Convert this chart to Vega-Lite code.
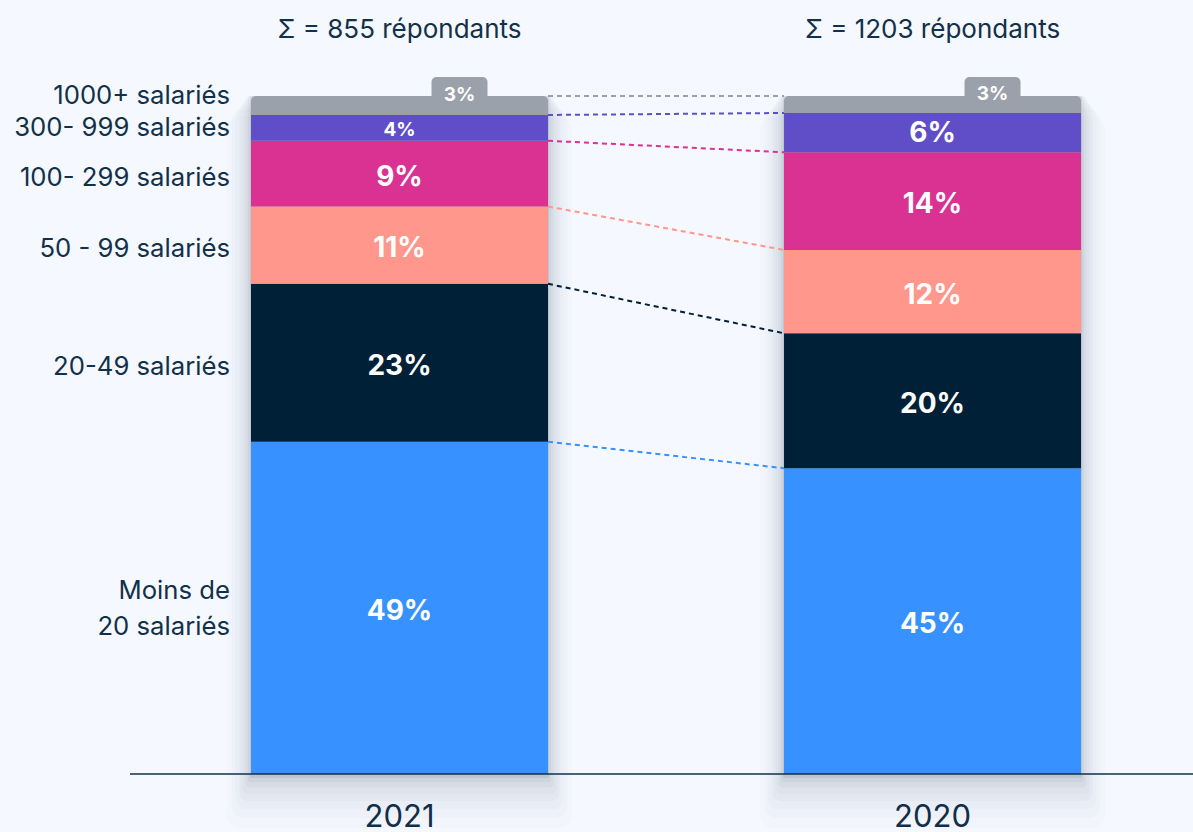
{
"$schema":"https://vega.github.io/schema/vega-lite/v6.json",
"width":1193,"height":832,"autosize":"none","padding":0,"background":"#f5f8fe",
"config":{"view":{"stroke":null},"font":"Inter"},
"datasets":{
"shares":[
{"year":"2021","category":"Moins de 20 salariés","name":["Moins de","20 salariés"],"rank":1,"share":49.0,"label":"49%"},
{"year":"2021","category":"20-49 salariés","name":"20-49 salariés","rank":2,"share":23.3,"label":"23%"},
{"year":"2021","category":"50 - 99 salariés","name":"50 - 99 salariés","rank":3,"share":11.4,"label":"11%"},
{"year":"2021","category":"100- 299 salariés","name":"100- 299 salariés","rank":4,"share":9.7,"label":"9%"},
{"year":"2021","category":"300- 999 salariés","name":"300- 999 salariés","rank":5,"share":3.8,"label":"4%"},
{"year":"2021","category":"1000+ salariés","name":"1000+ salariés","rank":6,"share":2.8,"label":"3%"},
{"year":"2020","category":"Moins de 20 salariés","name":["Moins de","20 salariés"],"rank":1,"share":45.1,"label":"45%"},
{"year":"2020","category":"20-49 salariés","name":"20-49 salariés","rank":2,"share":19.9,"label":"20%"},
{"year":"2020","category":"50 - 99 salariés","name":"50 - 99 salariés","rank":3,"share":12.3,"label":"12%"},
{"year":"2020","category":"100- 299 salariés","name":"100- 299 salariés","rank":4,"share":14.4,"label":"14%"},
{"year":"2020","category":"300- 999 salariés","name":"300- 999 salariés","rank":5,"share":5.8,"label":"6%"},
{"year":"2020","category":"1000+ salariés","name":"1000+ salariés","rank":6,"share":2.5,"label":"3%"}
],
"headers":[{"year":"2021","text":"Σ = 855 répondants"},{"year":"2020","text":"Σ = 1203 répondants"}],
"ends":[{"end":"start"},{"end":"stop"}]
},
"data":{"name":"shares"},
"transform":[
{"stack":"share","groupby":["year"],"sort":[{"field":"rank","order":"ascending"}],"as":["y0","y1"]},
{"calculate":"(datum.y0+datum.y1)/2","as":"mid"}
],
"resolve":{"scale":{"x":"independent"}},
"layer":[
{
"encoding":{"x":{"field":"year","type":"nominal","sort":["2021","2020"],
 "scale":{"domain":["2021","2020"],"paddingInner":0.4428,"paddingOuter":0.3405,"align":0.6915},
 "axis":{"title":null,"domain":false,"ticks":false,"grid":false,"labelAngle":0,"offset":-58,"labelPadding":28,"labelFontSize":31,"labelColor":"#12304a","labelFont":"Inter","labelBaseline":"top"}}},
"layer":[
{"transform":[{"filter":"datum.rank==6"}],"mark":{"type":"bar","width":346,"opacity":0.012,"color":"#001a3a","cornerRadius":14},"encoding":{"y":{"datum":-8,"type":"quantitative","scale":{"domain":[-8.555,114.16]},"axis":null},"y2":{"datum":97}}},
{"transform":[{"filter":"datum.rank==6"}],"mark":{"type":"bar","width":336,"opacity":0.015,"color":"#001a3a","cornerRadius":12},"encoding":{"y":{"datum":-6.5,"type":"quantitative","scale":{"domain":[-8.555,114.16]},"axis":null},"y2":{"datum":98}}},
{"transform":[{"filter":"datum.rank==6"}],"mark":{"type":"bar","width":328,"opacity":0.02,"color":"#001a3a","cornerRadius":10},"encoding":{"y":{"datum":-5.2,"type":"quantitative","scale":{"domain":[-8.555,114.16]},"axis":null},"y2":{"datum":98.5}}},
{"transform":[{"filter":"datum.rank==6"}],"mark":{"type":"bar","width":320,"opacity":0.022,"color":"#001a3a","cornerRadius":8},"encoding":{"y":{"datum":-4,"type":"quantitative","scale":{"domain":[-8.555,114.16]},"axis":null},"y2":{"datum":99}}},
{"transform":[{"filter":"datum.rank==6"}],"mark":{"type":"bar","width":314,"opacity":0.025,"color":"#001a3a","cornerRadius":6},"encoding":{"y":{"datum":-3,"type":"quantitative","scale":{"domain":[-8.555,114.16]},"axis":null},"y2":{"datum":99.5}}},
{"transform":[{"filter":"datum.rank==6"}],"mark":{"type":"bar","width":308,"opacity":0.03,"color":"#001a3a","cornerRadius":4},"encoding":{"y":{"datum":-2,"type":"quantitative","scale":{"domain":[-8.555,114.16]},"axis":null},"y2":{"datum":100}}},
{"transform":[{"filter":"datum.rank==6"}],"mark":{"type":"bar","width":303,"opacity":0.04,"color":"#001a3a","cornerRadius":3},"encoding":{"y":{"datum":-1.2,"type":"quantitative","scale":{"domain":[-8.555,114.16]},"axis":null},"y2":{"datum":100}}},
{"transform":[{"filter":"datum.rank==6"}],"mark":{"type":"bar","width":299,"opacity":0.08,"color":"#001a3a","cornerRadius":2},"encoding":{"y":{"datum":-0.6,"type":"quantitative","scale":{"domain":[-8.555,114.16]},"axis":null},"y2":{"datum":100}}},
{"transform":[{"filter":"datum.rank==6"}],"mark":{"type":"bar","width":56,"xOffset":60,"color":"#9aa1aa","cornerRadius":5},"encoding":{"y":{"datum":97,"type":"quantitative","scale":{"domain":[-8.555,114.16]}},"y2":{"datum":102.8}}},
{"transform":[{"filter":"datum.rank==6"}],"mark":{"type":"bar","color":"#9aa1aa","cornerRadiusTopLeft":5,"cornerRadiusTopRight":5},"encoding":{"y":{"field":"y0","type":"quantitative","scale":{"domain":[-8.555,114.16]}},"y2":{"field":"y1"}}},
{"transform":[{"filter":"datum.rank<6"}],"mark":{"type":"bar"},"encoding":{"y":{"field":"y0","type":"quantitative","scale":{"domain":[-8.555,114.16]}},"y2":{"field":"y1"},
 "color":{"field":"category","type":"nominal","legend":null,"scale":{"domain":["Moins de 20 salariés","20-49 salariés","50 - 99 salariés","100- 299 salariés","300- 999 salariés","1000+ salariés"],"range":["#3792ff","#002038","#ff978c","#d93292","#604ec9","#9aa1aa"]}}}},
{"transform":[{"filter":"datum.rank<5"}],"mark":{"type":"text","color":"#ffffff","fontSize":28,"fontWeight":"bold","baseline":"middle","dy":4},"encoding":{"y":{"field":"mid","type":"quantitative","scale":{"domain":[-8.555,114.16]}},"text":{"field":"label"}}},
{"transform":[{"filter":"datum.label=='6%'"}],"mark":{"type":"text","color":"#ffffff","fontSize":28,"fontWeight":"bold","baseline":"middle","dy":1},"encoding":{"y":{"field":"mid","type":"quantitative","scale":{"domain":[-8.555,114.16]}},"text":{"field":"label"}}},
{"transform":[{"filter":"datum.label=='4%'"}],"mark":{"type":"text","color":"#ffffff","fontSize":19,"fontWeight":"bold","baseline":"middle","dy":2},"encoding":{"y":{"field":"mid","type":"quantitative","scale":{"domain":[-8.555,114.16]}},"text":{"field":"label"}}},
{"transform":[{"filter":"datum.rank==6"}],"mark":{"type":"text","color":"#ffffff","fontSize":19,"fontWeight":"bold","baseline":"middle","dx":60,"dy":-10},"encoding":{"y":{"field":"mid","type":"quantitative","scale":{"domain":[-8.555,114.16]}},"text":{"field":"label"}}},
{"transform":[{"filter":"datum.year=='2021' && datum.rank==1"}],"mark":{"type":"text","color":"#12304a","fontSize":25.7,"align":"right","baseline":"middle","dx":-169.5,"dy":-17,"lineBreak":"\n","lineHeight":36},"encoding":{"y":{"field":"mid","type":"quantitative","scale":{"domain":[-8.555,114.16]}},"text":{"field":"name"}}},
{"transform":[{"filter":"datum.year=='2021' && datum.rank>1 && datum.rank<5"}],"mark":{"type":"text","color":"#12304a","fontSize":25.7,"align":"right","baseline":"middle","dx":-169.5,"dy":4},"encoding":{"y":{"field":"mid","type":"quantitative","scale":{"domain":[-8.555,114.16]}},"text":{"field":"name"}}},
{"transform":[{"filter":"datum.year=='2021' && datum.rank==5"}],"mark":{"type":"text","color":"#12304a","fontSize":25.7,"align":"right","baseline":"middle","dx":-169.5,"dy":0},"encoding":{"y":{"field":"mid","type":"quantitative","scale":{"domain":[-8.555,114.16]}},"text":{"field":"name"}}},
{"transform":[{"filter":"datum.year=='2021' && datum.rank==6"}],"mark":{"type":"text","color":"#12304a","fontSize":25.7,"align":"right","baseline":"middle","dx":-169.5,"dy":-9},"encoding":{"y":{"field":"mid","type":"quantitative","scale":{"domain":[-8.555,114.16]}},"text":{"field":"name"}}},
{"data":{"name":"headers"},"transform":[],"mark":{"type":"text","color":"#12304a","fontSize":26,"baseline":"middle"},"encoding":{"y":{"datum":109.75,"type":"quantitative","scale":{"domain":[-8.555,114.16]}},"text":{"field":"text"}}}
]
},
{
"mark":{"type":"line","strokeWidth":2,"strokeDash":[5,4]},
"encoding":{
 "x":{"field":"year","type":"ordinal","sort":["2021","2020"],"scale":{"type":"point","domain":["2021","2020"],"range":[548,784],"padding":0},"axis":null},
 "y":{"field":"y1","type":"quantitative","scale":{"domain":[-8.555,114.16]}},
 "detail":{"field":"category"},
 "color":{"field":"category","type":"nominal","legend":null}
}
},
{
"data":{"name":"ends"},"transform":[],
"mark":{"type":"line","color":"#12304a","strokeWidth":1.5},
"encoding":{
 "x":{"field":"end","type":"ordinal","scale":{"type":"point","domain":["start","stop"],"range":[130,1193],"padding":0},"axis":null},
 "y":{"datum":0,"type":"quantitative","scale":{"domain":[-8.555,114.16]}}
}
}
]
}
